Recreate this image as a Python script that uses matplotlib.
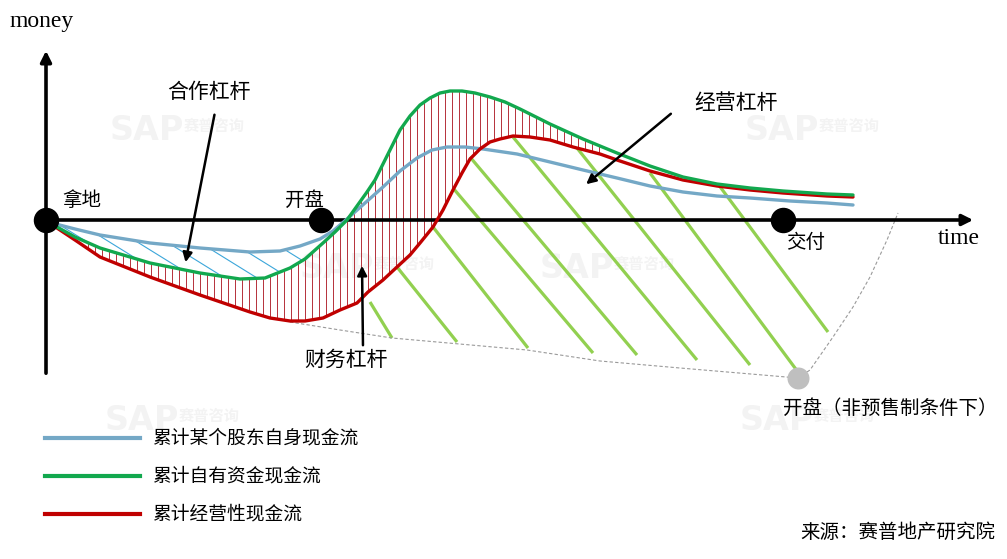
import numpy as np
import matplotlib
matplotlib.use('Agg')
import matplotlib.pyplot as plt
from matplotlib.patches import Polygon

plt.rcParams['font.family'] = ['Noto Sans CJK SC', 'DejaVu Sans']

# 曲线（图上像素坐标，y 向下）
blue_x = [48, 75, 100, 150, 200, 250, 280, 300, 320, 333, 347, 365, 383, 400, 417, 432, 447, 465,
          483, 517, 550, 583, 617, 650, 683, 717, 750, 790, 827, 853]
blue_y = [222, 229, 235, 243, 248, 252, 251, 246, 239, 231, 219, 203, 187, 171, 158, 150, 147, 147,
          149, 154, 162, 170, 178, 186, 192, 196, 198, 201, 203, 205]

green_x = [48, 75, 100, 150, 200, 240, 265, 290, 305, 323, 335, 347, 357, 367, 375, 390, 400, 410,
           420, 430, 440, 450, 462, 475, 490, 505, 520, 550, 583, 617, 650, 683, 717, 750, 783,
           827, 853]
green_y = [222, 237, 248, 263, 273, 279, 278, 268, 259, 243, 232, 220, 206, 192, 180, 150, 130, 116,
           105, 98, 93, 91, 91, 93, 97, 102, 109, 124, 139, 153, 166, 177, 184, 188, 191, 194, 195]

red_x = [48, 75, 100, 150, 200, 250, 270, 290, 305, 323, 340, 357, 368, 383, 397, 410, 420, 433,
         443, 453, 462, 470, 480, 490, 500, 513, 530, 550, 573, 600, 617, 650, 683, 717, 750, 783,
         827, 853]
red_y = [222, 240, 257, 277, 295, 312, 318, 321, 321, 318, 310, 303, 292, 280, 267, 255, 243, 227,
         210, 190, 173, 159, 149, 142, 139, 136, 137, 140, 147, 154, 160, 171, 180, 186, 190, 193,
         196, 197]

# 非预售制下的虚线
dash_x = [290, 340, 392, 527, 600, 680, 798, 810, 833, 853, 870, 887, 898]
dash_y = [322, 330, 338, 350, 361, 368, 378, 370, 337, 307, 277, 240, 213]

# 经营杠杆斜线 (起点, 终点)
op_x0 = [370, 397, 433, 453, 470, 513, 577, 650, 718]
op_y0 = [302, 267, 227, 188, 157, 137, 148, 173, 184]
op_x1 = [392, 457, 528, 593, 637, 697, 750, 798, 828]
op_y1 = [338, 342, 348, 353, 355, 360, 365, 372, 332]

# 合作杠杆斜线在蓝线上的起点
coop_x = [60, 97, 135, 172, 210, 247, 285]

# 节点
node_x = [46, 321, 783]
node_y = [220, 220, 220]
node_labels = ['拿地', '开盘', '交付']

legend_labels = ['累计某个股东自身现金流', '累计自有资金现金流', '累计经营性现金流']

c_blue = '#74A8C6'
c_green = '#12A84E'
c_red = '#C00000'

fig = plt.figure(figsize=(10.07, 5.59), dpi=100)
ax = fig.add_axes([0, 0, 1, 1])
ax.set_xlim(0, 1007)
ax.set_ylim(559, 0)
ax.axis('off')

# 水印
for wx, wy in [(110, 130), (300, 268), (540, 268), (745, 130), (105, 420), (740, 420)]:
    ax.text(wx, wy, 'SAP', fontsize=24, fontweight='bold', color='#F3F3F3', va='center',
            family='DejaVu Sans', zorder=0)
    ax.text(wx + 74, wy - 4, '赛普咨询', fontsize=11, fontweight='bold', color='#F3F3F3',
            va='center', zorder=0)

# 财务杠杆：绿线与红线之间的竖线
hx = np.arange(88, 600, 7)
gy = np.interp(hx, green_x, green_y)
ry = np.interp(hx, red_x, red_y)
ax.vlines(hx, gy, ry, color='#B5303A', lw=0.7, zorder=1)

# 合作杠杆：蓝线与绿线之间的斜线
poly = Polygon(np.column_stack([np.r_[blue_x, green_x[::-1]], np.r_[blue_y, green_y[::-1]]]),
               closed=True, fc='none', ec='none')
ax.add_patch(poly)
for x0 in coop_x:
    y0 = np.interp(x0, blue_x, blue_y)
    ln, = ax.plot([x0, x0 + 80], [y0, y0 + 0.62 * 80], color='#3BA6DA', lw=0.8, zorder=1)
    ln.set_clip_path(poly)

# 经营杠杆：绿色粗斜线
for a, b, c, d in zip(op_x0, op_y0, op_x1, op_y1):
    ax.plot([a, c], [b, d], color='#92D050', lw=2.3, zorder=1, solid_capstyle='butt')

ax.plot(dash_x, dash_y, color='#9A9A9A', lw=0.8, ls=(0, (3, 2)), zorder=1)

# 坐标轴
ax.annotate('', xy=(976, 220), xytext=(44, 220),
            arrowprops=dict(arrowstyle='-|>', lw=2.6, color='black', mutation_scale=16), zorder=2)
ax.annotate('', xy=(46, 48), xytext=(46, 376),
            arrowprops=dict(arrowstyle='-|>', lw=2.6, color='black', mutation_scale=16), zorder=2)
ax.text(10, 22, 'money', fontsize=17, family='Liberation Serif', va='center', ha='left')
ax.text(938, 238, 'time', fontsize=17, family='Liberation Serif', va='center', ha='left')

ax.plot(blue_x, blue_y, color=c_blue, lw=2.4, zorder=4, solid_capstyle='round')
ax.plot(red_x, red_y, color=c_red, lw=2.4, zorder=4, solid_capstyle='round')
ax.plot(green_x, green_y, color=c_green, lw=2.4, zorder=4, solid_capstyle='round')

ax.scatter(node_x, node_y, s=300, color='black', zorder=5)
ax.scatter([798], [378], s=220, color='#BFBFBF', zorder=5)

ax.text(82, 200, node_labels[0], fontsize=14, ha='center', va='center')
ax.text(305, 200, node_labels[1], fontsize=14, ha='center', va='center')
ax.text(806, 243, node_labels[2], fontsize=14, ha='center', va='center')
ax.text(890, 408, '开盘（非预售制条件下）', fontsize=14, ha='center', va='center')

arrow = dict(arrowstyle='-|>', lw=1.8, color='black', mutation_scale=14)
ax.annotate('', xy=(185, 265), xytext=(215, 112), arrowprops=arrow, zorder=6)
ax.annotate('', xy=(362, 263), xytext=(363, 348), arrowprops=arrow, zorder=6)
ax.annotate('', xy=(584, 186), xytext=(673, 112), arrowprops=arrow, zorder=6)
ax.text(209, 92, '合作杠杆', fontsize=15, ha='center', va='center')
ax.text(346, 360, '财务杠杆', fontsize=15, ha='center', va='center')
ax.text(736, 103, '经营杠杆', fontsize=15, ha='center', va='center')

# 图例
for yy, col, lab in zip([438, 476, 514], [c_blue, c_green, c_red], legend_labels):
    ax.plot([45, 140], [yy, yy], color=col, lw=3)
    ax.text(152, yy, lab, fontsize=13.5, va='center', ha='left')

ax.text(995, 532, '来源：赛普地产研究院', fontsize=14, va='center', ha='right')

fig.savefig('out.png', dpi=100)
